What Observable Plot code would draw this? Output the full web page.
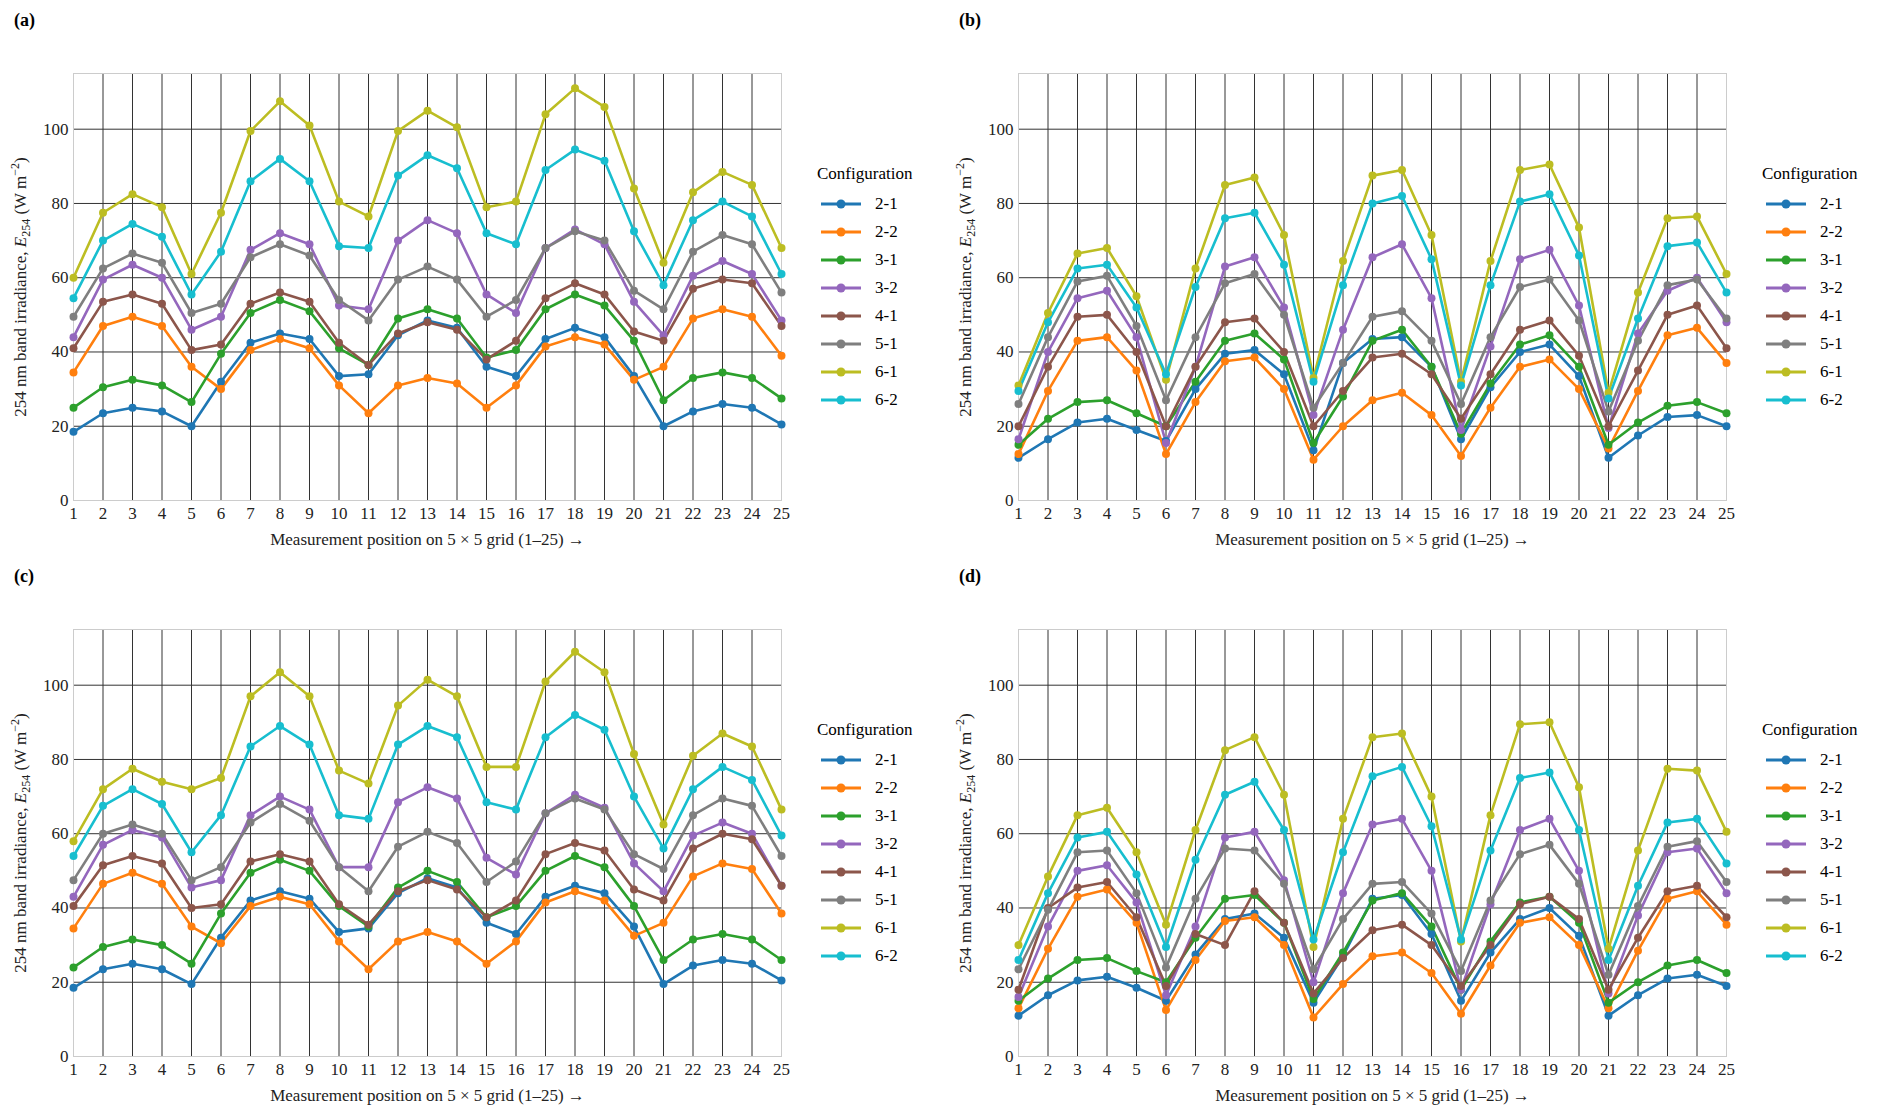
<!DOCTYPE html>
<html><head><meta charset="utf-8">
<script src="https://cdn.jsdelivr.net/npm/d3@7"></script>
<script src="https://cdn.jsdelivr.net/npm/@observablehq/plot@0.6"></script>
<style>
body{margin:0;background:#fff;font-family:"Liberation Serif",serif;}
.panel{position:absolute;width:945px;height:556px;}
.lab{position:absolute;left:14px;top:10px;font-weight:bold;font-size:18px;}
.leg{position:absolute;left:817px;top:164px;font-size:17px;}
.leg .t{margin-bottom:6px;}
.leg .row{height:28px;display:flex;align-items:center;}
.leg svg{margin-right:14px;margin-left:4px;}
</style></head><body>
<script>
const positions = d3.range(1, 26);
const configs = ["2-1","2-2","3-1","3-2","4-1","5-1","6-1","6-2"];
const colors = ["#1f77b4","#ff7f0e","#2ca02c","#9467bd","#8c564b","#7f7f7f","#bcbd22","#17becf"];
const yTicks = [0,20,40,60,80,100];

const panelA = {
"2-1":[18.5,23.5,25,24,20,32,42.5,45,43.5,33.5,34,44.5,48.5,46.5,36,33.5,43.5,46.5,44,33.5,20,24,26,25,20.5],
"2-2":[34.5,47,49.5,47,36,30,40.5,43.5,41,31,23.5,31,33,31.5,25,31,41.5,44,42,32.5,36,49,51.5,49.5,39],
"3-1":[25,30.5,32.5,31,26.5,39.5,50.5,54,51,41,36.5,49,51.5,49,38.5,40.5,51.5,55.5,52.5,43,27,33,34.5,33,27.5],
"3-2":[44,59.5,63.5,60,46,49.5,67.5,72,69,52.5,51.5,70,75.5,72,55.5,50.5,68,73,69,53.5,44.5,60.5,64.5,61,48.5],
"4-1":[41,53.5,55.5,53,40.5,42,53,56,53.5,42.5,36.5,45,48,46,38,43,54.5,58.5,55.5,45.5,43,57,59.5,58.5,47],
"5-1":[49.5,62.5,66.5,64,50.5,53,65.5,69,66,54,48.5,59.5,63,59.5,49.5,54,68,72.5,70,56.5,51.5,67,71.5,69,56],
"6-1":[60,77.5,82.5,79,61,77.5,99.5,107.5,101,80.5,76.5,99.5,105,100.5,79,80.5,104,111,106,84,64,83,88.5,85,68],
"6-2":[54.5,70,74.5,71,55.5,67,86,92,86,68.5,68,87.5,93,89.5,72,69,89,94.5,91.5,72.5,58,75.5,80.5,76.5,61]};
const panelB = {
"2-1":[11.5,16.5,21,22,19,16,30,39.5,40.5,34,13.5,37,43.5,44,36,16.5,30.5,40,42,33.5,11.5,17.5,22.5,23,20],
"2-2":[12.5,29.5,43,44,35,12.5,26.5,37.5,38.5,30,11,20,27,29,23,12,25,36,38,30,14,29.5,44.5,46.5,37],
"3-1":[15,22,26.5,27,23.5,20,32,43,45,38,15.5,28,43,46,36,18,31.5,42,44.5,36,15,21,25.5,26.5,23.5],
"3-2":[16.5,40,54.5,56.5,44,15.5,36,63,65.5,52,23,46,65.5,69,54.5,19,41.5,65,67.5,52.5,19.5,45,56.5,60,48],
"4-1":[20,36,49.5,50,40,20,36,48,49,40,20,29.5,38.5,39.5,34,22,34,46,48.5,39,20,35,50,52.5,41],
"5-1":[26,44,59,60.5,47,27,44,58.5,61,50,25,37,49.5,51,43,26,44,57.5,59.5,48.5,24,43,58,59.5,49],
"6-1":[31,50.5,66.5,68,55,32.5,62.5,85,87,71.5,33,64.5,87.5,89,71.5,32,64.5,89,90.5,73.5,29,56,76,76.5,61],
"6-2":[29.5,48,62.5,63.5,52,34,57.5,76,77.5,63.5,32,58,80,82,65,31,58,80.5,82.5,66,27.5,49,68.5,69.5,56]};
const panelC = {
"2-1":[18.5,23.5,25,23.5,19.5,32,42,44.5,42.5,33.5,34.5,44,48,45.5,36,33,43,46,44,35,19.5,24.5,26,25,20.5],
"2-2":[34.5,46.5,49.5,46.5,35,30.5,40.5,43,41,31,23.5,31,33.5,31,25,31,41.5,44.5,42,32.5,36,48.5,52,50.5,38.5],
"3-1":[24,29.5,31.5,30,25,38.5,49.5,53,50,40.5,35,45.5,50,47,37.5,40.5,50,54,51,40.5,26,31.5,33,31.5,26],
"3-2":[43,57,61,59,45.5,47.5,65,70,66.5,51,51,68.5,72.5,69.5,53.5,49,65.5,70.5,67,52,44.5,59.5,63,60,46],
"4-1":[40.5,51.5,54,52,40,41,52.5,54.5,52.5,41,35.5,44.5,47.5,45,37.5,42,54.5,57.5,55.5,45,42,56,60,58.5,46],
"5-1":[47.5,60,62.5,60,47.5,51,63,68,63.5,51,44.5,56.5,60.5,57.5,47,52.5,65.5,69.5,66.5,54.5,50.5,65,69.5,67.5,54],
"6-1":[58,72,77.5,74,72,75,97,103.5,97,77,73.5,94.5,101.5,97,78,78,101,109,103.5,81.5,62.5,81,87,83.5,66.5],
"6-2":[54,67.5,72,68,55,65,83.5,89,84,65,64,84,89,86,68.5,66.5,86,92,88,70,56,72,78,74.5,59.5]};
const panelD = {
"2-1":[11,16.5,20.5,21.5,18.5,15,27.5,37,38.5,32,14.5,27,42.5,43.5,33,15,28,37,40,32.5,11,16.5,21,22,19],
"2-2":[13,29,43,45,36,12.5,26,36.5,37.5,30,10.5,19.5,27,28,22.5,11.5,24.5,36,37.5,30,13,28.5,42.5,44.5,35.5],
"3-1":[15,21,26,26.5,23,20,32,42.5,43.5,36,15.5,28,42,44,35,18,31,41.5,43,36,14.5,20,24.5,26,22.5],
"3-2":[16,35,50,51.5,41.5,16.5,35,59,60.5,47.5,20,44,62.5,64,50,18,41,61,64,50,17,38,55,56,44],
"4-1":[18,40,45.5,47,37.5,19,33,30,44.5,36,17,26.5,34,35.5,30,19,30,41,43,37,18,32,44.5,46,37.5],
"5-1":[23.5,39.5,55,55.5,44,24,42.5,56,55.5,46.5,23.5,37,46.5,47,38.5,23,42,54.5,57,46.5,22,40.5,56.5,58,47],
"6-1":[30,48.5,65,67,55,35.5,61,82.5,86,70.5,29.5,64,86,87,70,31,65,89.5,90,72.5,29,55.5,77.5,77,60.5],
"6-2":[26,44,59,60.5,49,29.5,53,70.5,74,61,31.5,55,75.5,78,62,31.5,55.5,75,76.5,61,26,46,63,64,52]};

const panels = [["(a)",panelA,0,0],["(b)",panelB,945,0],["(c)",panelC,0,556],["(d)",panelD,945,556]];

for (const [label, data, left, top] of panels) {
  const rows = configs.flatMap(c => data[c].map((v,i)=>({config:c,pos:positions[i],value:v})));
  const div = document.createElement("div");
  div.className = "panel"; div.style.left = left+"px"; div.style.top = top+"px";
  const lab = document.createElement("div"); lab.className="lab"; lab.textContent=label; div.appendChild(lab);
  const chart = Plot.plot({
    width: 790, height: 556,
    marginLeft: 73, marginRight: 9, marginTop: 73, marginBottom: 56,
    style: {fontFamily: "Liberation Serif, serif", fontSize: "17px", color:"#222", background:"transparent"},
    x: {domain:[1,25], ticks: positions, tickSize:0, tickPadding:6, label:"Measurement position on 5 × 5 grid (1–25)", labelAnchor:"center", labelOffset:44},
    y: {domain:[0,115], ticks: yTicks, tickSize:0, tickPadding:5, label:"254 nm band irradiance, E254 (W m−2)", labelAnchor:"center", labelOffset:60},
    color: {domain: configs, range: colors},
    marks: [
      Plot.gridX(positions, {stroke:"#333", strokeOpacity:1, strokeWidth:1}),
      Plot.gridY(yTicks, {stroke:"#333", strokeOpacity:1, strokeWidth:1}),
      Plot.frame({stroke:"#ccc"}),
      Plot.line(rows, {x:"pos", y:"value", z:"config", stroke:"config", strokeWidth:2.6}),
      Plot.dot(rows, {x:"pos", y:"value", fill:"config", r:4})
    ]
  });
  chart.style.position="absolute"; chart.style.left="0"; chart.style.top="0";
  div.appendChild(chart);
  const yl = chart.querySelector('[aria-label="y-axis label"] text');
  if (yl) yl.innerHTML = '254 nm band irradiance, <tspan font-style="italic">E</tspan><tspan font-size="12" dy="4">254</tspan><tspan dy="-4"> (W m</tspan><tspan font-size="12" dy="-7">−2</tspan><tspan dy="7">)</tspan>';
  const leg = document.createElement("div"); leg.className="leg";
  leg.innerHTML = '<div class="t">Configuration</div>' + configs.map((c,i)=>
    `<div class="row"><svg width="40" height="14"><line x1="0" x2="40" y1="7" y2="7" stroke="${colors[i]}" stroke-width="3"/><circle cx="20" cy="7" r="4.5" fill="${colors[i]}"/></svg>${c}</div>`).join("");
  div.appendChild(leg);
  document.body.appendChild(div);
}
</script>
</body></html>
